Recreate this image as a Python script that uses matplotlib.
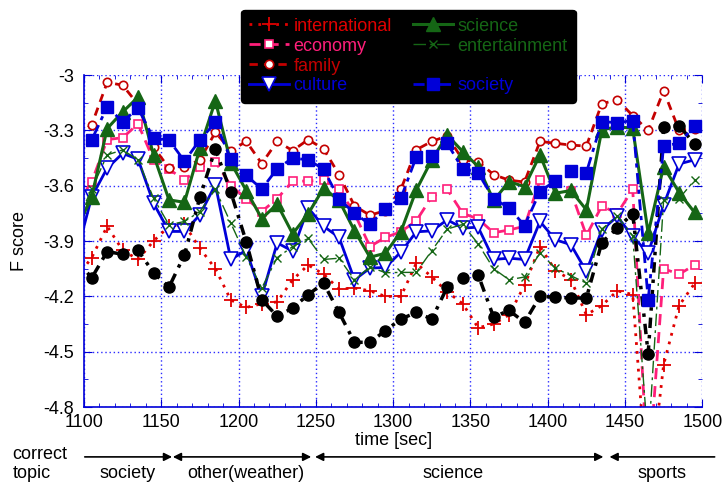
import matplotlib
matplotlib.use("Agg")
import matplotlib.pyplot as plt
from matplotlib.lines import Line2D
from matplotlib import font_manager

# gnuplot-ish narrow Helvetica look if the narrow face is there
names = {f.name for f in font_manager.fontManager.ttflist}
if "Liberation Sans Narrow" in names:
    plt.rcParams['font.family'] = ['Liberation Sans Narrow', 'DejaVu Sans']
    FS = 15
else:
    plt.rcParams['font.family'] = ['Liberation Sans', 'DejaVu Sans']
    FS = 13

# time axis, one frame every 10 sec (1095 only feeds the line into the left edge)
times = [1095 + 10 * i for i in range(41)]

international = [-4.10, -3.99, -3.82, -3.95, -4.00, -3.90, -3.82, -3.81, -3.94, -4.05,
                 -4.22, -4.26, -4.24, -4.23, -4.11, -4.03, -4.08, -4.16, -4.155, -4.17,
                 -4.20, -4.20, -4.02, -4.095, -4.175, -4.24, -4.37, -4.35, -4.30, -4.14,
                 -3.93, -4.06, -4.11, -4.30, -4.25, -4.17, -4.19, -5.30, -4.57, -4.25,
                 -4.13]
economy = [-3.70, -3.58, -3.35, -3.34, -3.265, -3.46, -3.51, -3.57, -3.50, -3.47,
           -3.60, -3.67, -3.74, -3.67, -3.575, -3.575, -3.57, -3.62, -3.75, -3.93,
           -3.88, -3.85, -3.79, -3.66, -3.62, -3.75, -3.78, -3.855, -3.84, -3.82,
           -3.57, -3.58, -3.63, -3.87, -3.71, -3.75, -3.62, -5.20, -4.05, -4.08,
           -4.03]
family = [-3.33, -3.27, -3.04, -3.055, -3.16, -3.39, -3.505, -3.50, -3.46, -3.31,
          -3.41, -3.36, -3.48, -3.36, -3.41, -3.35, -3.40, -3.54, -3.71, -3.76,
          -3.735, -3.62, -3.405, -3.36, -3.33, -3.46, -3.47, -3.54, -3.57, -3.58,
          -3.36, -3.37, -3.38, -3.385, -3.155, -3.135, -3.22, -3.30, -3.085, -3.30,
          -3.29]
culture = [-3.98, -3.66, -3.505, -3.425, -3.457, -3.695, -3.848, -3.848, -3.758, -3.594,
           -4.00, -3.95, -4.20, -3.91, -3.955, -3.72, -3.82, -3.88, -4.11, -4.047,
           -4.043, -3.96, -3.85, -3.845, -3.785, -3.83, -3.825, -4.00, -3.993, -4.00,
           -3.794, -3.893, -3.92, -4.065, -3.84, -3.767, -3.875, -3.966, -3.704, -3.482,
           -3.46]
science = [-3.84, -3.66, -3.29, -3.20, -3.12, -3.433, -3.677, -3.69, -3.397, -3.14,
           -3.475, -3.627, -3.778, -3.70, -3.861, -3.753, -3.613, -3.68, -3.844, -3.988,
           -3.966, -3.85, -3.623, -3.46, -3.325, -3.415, -3.496, -3.68, -3.578, -3.605,
           -3.433, -3.641, -3.626, -3.731, -3.298, -3.28, -3.289, -3.857, -3.496, -3.637,
           -3.745]
entertainment = [-3.80, -3.62, -3.433, -3.406, -3.46, -3.668, -3.812, -3.794, -3.74, -3.62,
                 -3.803, -3.987, -4.155, -3.99, -3.93, -3.886, -4.00, -3.993, -4.11, -4.04,
                 -4.072, -4.07, -4.07, -3.952, -3.835, -3.81, -3.915, -4.05, -4.11, -4.095,
                 -3.966, -4.047, -4.088, -4.128, -3.835, -3.767, -3.872, -5.00, -3.677, -3.67,
                 -3.57]
unlabeled = [-4.00, -4.10, -3.957, -3.972, -3.951, -4.072, -4.15, -3.975, -3.662, -3.40,
             -3.635, -3.905, -4.218, -4.308, -4.263, -4.191, -4.128, -4.287, -4.449, -4.449,
             -4.386, -4.323, -4.287, -4.323, -4.15, -4.101, -4.083, -4.312, -4.276, -4.341,
             -4.20, -4.204, -4.209, -4.209, -3.908, -3.83, -3.752, -4.51, -3.28, -3.274,
             -3.374]
society = [-3.43, -3.352, -3.172, -3.253, -3.18, -3.343, -3.352, -3.467, -3.352, -3.257,
           -3.456, -3.544, -3.618, -3.508, -3.45, -3.46, -3.51, -3.672, -3.749, -3.81,
           -3.725, -3.668, -3.444, -3.437, -3.37, -3.51, -3.532, -3.67, -3.72, -3.816,
           -3.632, -3.572, -3.523, -3.529, -3.253, -3.258, -3.247, -4.218, -3.384, -3.37,
           -3.276]

x_ticks = [1100, 1150, 1200, 1250, 1300, 1350, 1400, 1450, 1500]
y_ticks = [-4.8, -4.5, -4.2, -3.9, -3.6, -3.3, -3.0]
y_labels = ["-4.8", "-4.5", "-4.2", "-3.9", "-3.6", "-3.3", "-3"]

# correct topic segments along the time axis
topics = ["society", "other(weather)", "science", "sports"]
topic_bounds = [(1100.5, 1157), (1157.5, 1247), (1249.5, 1436), (1440, 1508)]
topic_centers = [1128, 1205, 1339, 1474]

fig = plt.figure(figsize=(7.24, 4.84), dpi=100)
ax = fig.add_axes([0.116, 0.159, 0.854, 0.686])

RED = "#e00000"
PINK = "#ff1f7a"
DRED = "#c40000"
BLUE = "#0000d8"
GREEN = "#156615"

series = [
    dict(y=international, label="international", color=RED, ls=(0, (1, 2.2)), lw=2,
         marker="+", ms=10, mew=1.3, mfc=RED),
    dict(y=economy, label="economy", color=PINK, ls=(0, (4, 2.5)), lw=2,
         marker="s", ms=6, mew=1.2, mfc="white"),
    dict(y=family, label="family", color=DRED, ls=(0, (3, 2.2)), lw=2,
         marker="o", ms=6, mew=1.2, mfc="white"),
    dict(y=culture, label="culture", color=BLUE, ls="-", lw=2,
         marker="v", ms=9.5, mew=1.2, mfc="white"),
    dict(y=science, label="science", color=GREEN, ls="-", lw=2.2,
         marker="^", ms=10, mew=1, mfc=GREEN),
    dict(y=entertainment, label="entertainment", color=GREEN, ls=(0, (9, 3, 2, 3)), lw=1,
         marker="x", ms=6, mew=1, mfc=GREEN),
    dict(y=unlabeled, label="_nolegend_", color="black", ls=(0, (3, 2, 1, 2)), lw=2.5,
         marker="o", ms=8, mew=1, mfc="black"),
    dict(y=society, label="society", color=BLUE, ls=(0, (4, 2, 1.5, 2)), lw=2,
         marker="s", ms=8, mew=1, mfc=BLUE),
]

handles = {}
for s in series:
    ln, = ax.plot(times, s["y"], color=s["color"], linestyle=s["ls"], linewidth=s["lw"],
                  marker=s["marker"], markersize=s["ms"], markeredgewidth=s["mew"],
                  markerfacecolor=s["mfc"], markeredgecolor=s["color"])
    handles[s["label"]] = ln

ax.set_xlim(1100, 1500)
ax.set_ylim(-4.8, -3.0)
ax.set_xticks(x_ticks)
ax.set_xticks(range(1100, 1501, 10), minor=True)
ax.set_yticks(y_ticks)
ax.set_yticklabels(y_labels)
ax.set_yticks([-4.65, -4.35, -4.05, -3.75, -3.45, -3.15], minor=True)
ax.tick_params(axis="both", which="both", direction="in", color=BLUE,
               top=True, right=True, labelsize=FS, labelcolor="black")
ax.tick_params(which="major", length=6)
ax.tick_params(which="minor", length=3)
ax.tick_params(axis="x", pad=5)
ax.tick_params(axis="y", pad=7)
ax.grid(True, which="major", color="#2a2aff", linestyle=(0, (1, 2)), linewidth=1)
for side in ["top", "right"]:
    ax.spines[side].set_visible(False)
for side in ["left", "bottom"]:
    ax.spines[side].set_color(BLUE)
    ax.spines[side].set_linewidth(1.2)

ax.set_ylabel("F score", fontsize=FS, labelpad=11)
ax.set_xlabel("time [sec]", fontsize=FS, labelpad=1)

# legend in two columns, with an empty slot above "society"
blank = Line2D([], [], linestyle="none", marker="none")
order = ["international", "economy", "family", "culture", "science", "entertainment"]
leg_handles = [handles[k] for k in order] + [blank, handles["society"]]
leg_labels = order + [" ", "society"]
leg = fig.legend(leg_handles, leg_labels, ncol=2, loc="upper left",
                 bbox_to_anchor=(0.333, 0.98), fontsize=FS, frameon=True,
                 facecolor="black", edgecolor="black", framealpha=1, fancybox=True,
                 handlelength=2.2, handletextpad=0.25, labelspacing=0.16,
                 columnspacing=1.2, borderpad=0.45, borderaxespad=0)
for txt, h in zip(leg.get_texts(), leg_handles):
    if txt.get_text().strip():
        txt.set_color(h.get_color())

# correct topic arrows under the axis
fig.text(0.017, 0.060, "correct", fontsize=FS, ha="left", va="center")
fig.text(0.017, 0.021, "topic", fontsize=FS, ha="left", va="center")
arrow_styles = ["-|>", "<|-|>", "<|-|>", "<|-"]
for (x0, x1), style in zip(topic_bounds, arrow_styles):
    ax.annotate("", xy=(x1, 0.056), xytext=(x0, 0.056),
                xycoords=("data", "figure fraction"), textcoords=("data", "figure fraction"),
                arrowprops=dict(arrowstyle=style, color="black", lw=1.2,
                                mutation_scale=12, shrinkA=0, shrinkB=0),
                annotation_clip=False)
for name, xc in zip(topics, topic_centers):
    ax.annotate(name, xy=(xc, 0.022), xycoords=("data", "figure fraction"),
                ha="center", va="center", fontsize=FS, annotation_clip=False)

fig.savefig("out.png", dpi=100)
